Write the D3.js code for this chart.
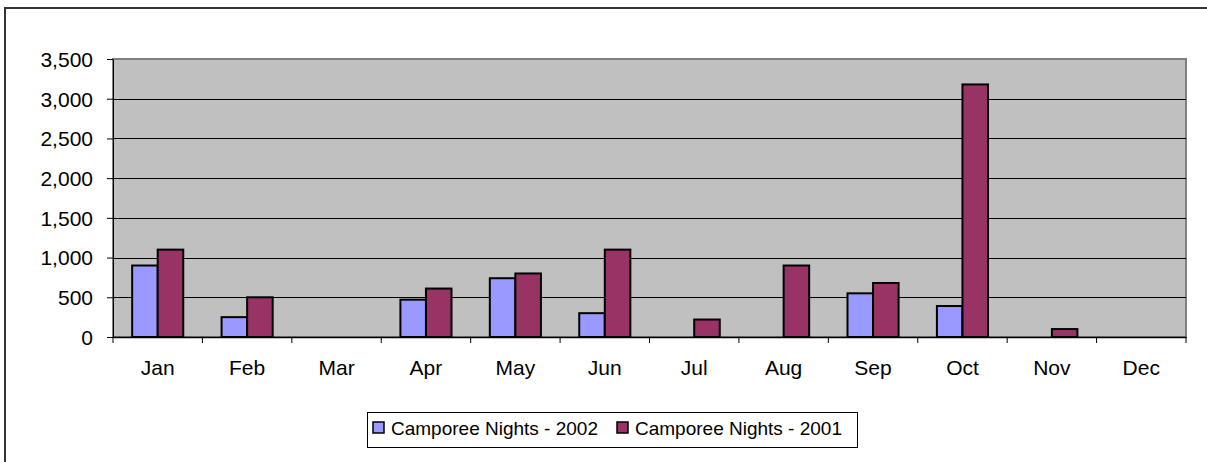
<!DOCTYPE html>
<html>
<head>
<meta charset="utf-8">
<script src="https://cdn.jsdelivr.net/npm/d3@7"></script>
<style>
  body { margin: 0; background: #fff; }
  text { font-family: Arial, "Liberation Sans", sans-serif; fill: #000; }
</style>
</head>
<body>
<div class="chart"></div>
<script>
const months = ['Jan', 'Feb', 'Mar', 'Apr', 'May', 'Jun', 'Jul', 'Aug', 'Sep', 'Oct', 'Nov', 'Dec'];
const nights2002 = [900, 250, 0, 470, 740, 300, 0, 0, 550, 390, 0, 0];
const nights2001 = [1100, 500, 0, 610, 800, 1100, 220, 900, 680, 3180, 100, 0];
const seriesNames = ['Camporee Nights - 2002', 'Camporee Nights - 2001'];
const seriesColors = ['#9999FF', '#993366'];
const yTicks = [0, 500, 1000, 1500, 2000, 2500, 3000, 3500];

const W = 1207, H = 462;
const plot = { left: 113, top: 59, right: 1186, bottom: 337 };
const axisFont = '21px';
const legendFont = '19px';

const svg = d3.select('.chart')
  .append('svg')
  .attr('width', W)
  .attr('height', H);

// outer chart border
svg.append('rect')
  .attr('x', 5).attr('y', 8)
  .attr('width', W + 10).attr('height', H + 10)
  .attr('fill', '#fff')
  .attr('stroke', '#333')
  .attr('stroke-width', 2);

const x = d3.scaleBand()
  .domain(months)
  .range([plot.left, plot.right]);

const y = d3.scaleLinear()
  .domain([0, 3500])
  .range([plot.bottom, plot.top]);

// plot background
svg.append('rect')
  .attr('x', plot.left).attr('y', plot.top)
  .attr('width', plot.right - plot.left)
  .attr('height', plot.bottom - plot.top)
  .attr('fill', '#C0C0C0')
  .attr('stroke', '#808080')
  .attr('stroke-width', 2);

// gridlines
svg.append('g')
  .selectAll('line')
  .data(yTicks.filter(d => d > 0 && d < 3500))
  .enter().append('line')
  .attr('x1', plot.left).attr('x2', plot.right)
  .attr('y1', d => Math.round(y(d)) + 0.5)
  .attr('y2', d => Math.round(y(d)) + 0.5)
  .attr('stroke', '#000')
  .attr('stroke-width', 1);

// bars
const barW = x.bandwidth() / 3.5;
const groups = svg.append('g')
  .selectAll('g')
  .data(months.map((m, i) => ({ m, vals: [nights2002[i], nights2001[i]] })))
  .enter().append('g')
  .attr('transform', d => 'translate(' + (x(d.m) + barW * 0.75) + ',0)');

groups.selectAll('rect')
  .data(d => d.vals.map((v, k) => ({ v, k })).filter(e => e.v > 0))
  .enter().append('rect')
  .attr('x', d => d.k * barW)
  .attr('y', d => y(d.v))
  .attr('width', barW)
  .attr('height', d => y(0) - y(d.v))
  .attr('fill', d => seriesColors[d.k])
  .attr('stroke', '#000')
  .attr('stroke-width', 2);

// y axis
const yAxis = svg.append('g')
  .attr('transform', 'translate(' + plot.left + ',0)')
  .call(d3.axisLeft(y).tickValues(yTicks).tickFormat(d3.format(',')).tickSizeInner(6).tickSizeOuter(0).tickPadding(14));
yAxis.select('.domain').attr('stroke', '#000');
yAxis.selectAll('line').attr('stroke', '#000');
yAxis.selectAll('text').style('font-size', axisFont).attr('dy', '0.35em');

// x axis
const xAxis = svg.append('g')
  .attr('transform', 'translate(0,' + plot.bottom + ')')
  .call(d3.axisBottom(x).tickSize(0).tickPadding(23));
xAxis.select('.domain').attr('stroke', '#000').attr('stroke-width', 1.5);
xAxis.selectAll('text').style('font-size', axisFont);

// category boundary ticks
svg.append('g')
  .selectAll('line')
  .data(months.concat(['end']))
  .enter().append('line')
  .attr('x1', d => d === 'end' ? plot.right : x(d))
  .attr('x2', d => d === 'end' ? plot.right : x(d))
  .attr('y1', plot.bottom)
  .attr('y2', plot.bottom + 6)
  .attr('stroke', '#000');

// legend
const legend = svg.append('g');
legend.append('rect')
  .attr('x', 367.5).attr('y', 412.5)
  .attr('width', 490).attr('height', 35)
  .attr('fill', '#fff')
  .attr('stroke', '#000');

const legendX = [373, 617];
const items = legend.selectAll('.legendCells')
  .data(seriesNames)
  .enter().append('g')
  .attr('class', 'legendCells')
  .attr('transform', (d, i) => 'translate(' + legendX[i] + ',422)');

items.append('rect')
  .attr('width', 11).attr('height', 11)
  .attr('fill', (d, i) => seriesColors[i])
  .attr('stroke', '#000')
  .attr('stroke-width', 1.5);

items.append('text')
  .attr('x', 18)
  .attr('y', 13)
  .style('font-size', legendFont)
  .text(d => d);
</script>
</body>
</html>
